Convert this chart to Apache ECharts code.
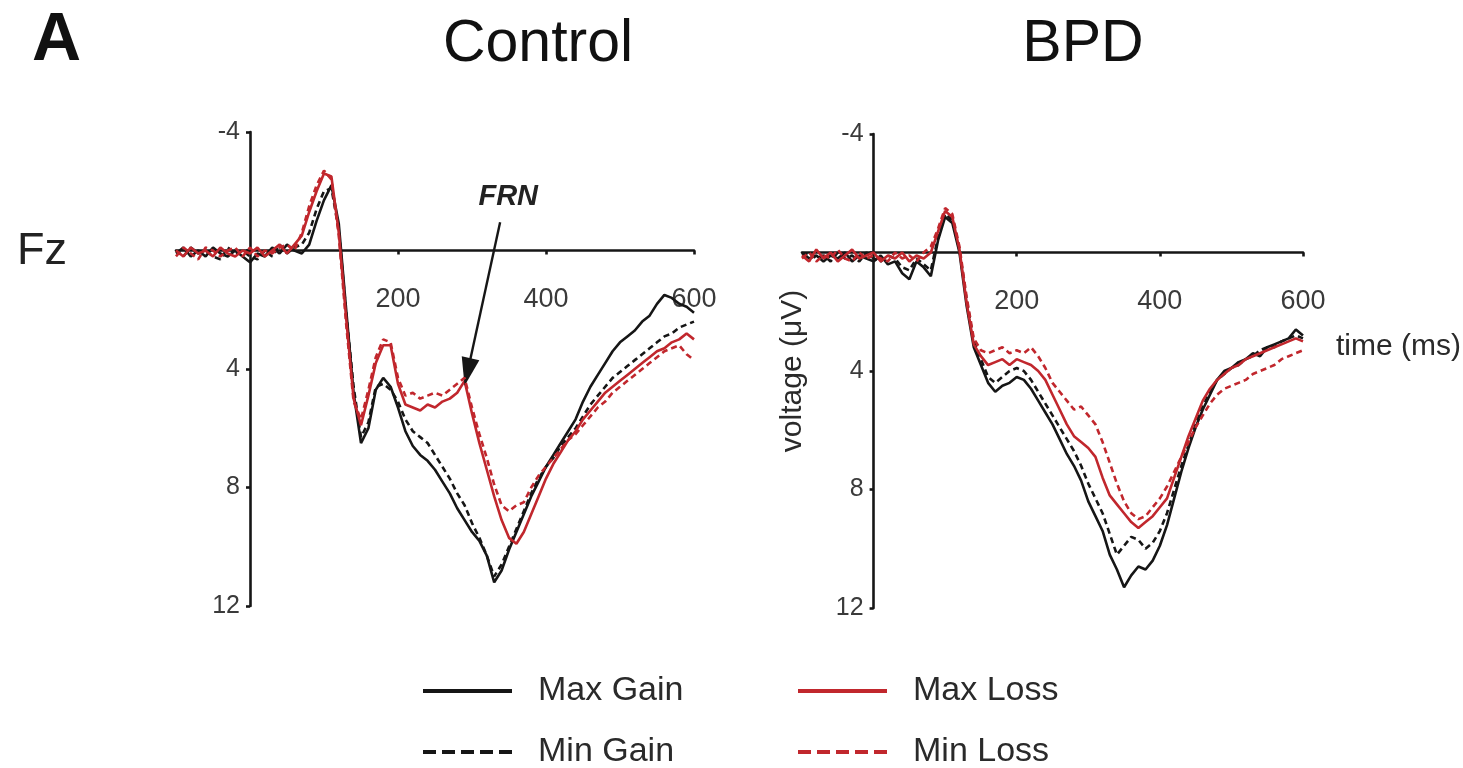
<!DOCTYPE html>
<html>
<head>
<meta charset="utf-8">
<title>FRN at Fz – Control vs BPD</title>
<script src="https://cdn.jsdelivr.net/npm/echarts@6/dist/echarts.min.js"></script>
<style>
  html, body { margin: 0; padding: 0; background: #fff; }
  #chart { width: 1463px; height: 768px; }
</style>
</head>
<body>
<div id="chart"></div>
<script>
// Time points (ms), shared by all waveforms
const times = [
  -100, -90, -80, -70, -60, -50, -40, -30, -20, -10,
  0, 10, 20, 30, 40, 50, 60, 70, 80, 90,
  100, 110, 120, 130, 140, 150, 160, 170, 180, 190,
  200, 210, 220, 230, 240, 250, 260, 270, 280, 290,
  300, 310, 320, 330, 340, 350, 360, 370, 380, 390,
  400, 410, 420, 430, 440, 450, 460, 470, 480, 490,
  500, 510, 520, 530, 540, 550, 560, 570, 580, 590, 600
];

// Control group, Fz voltage (µV)
const controlMaxGain = [
  0.1, -0.1, 0.2, 0.0, 0.2, -0.1, 0.1, 0.2, 0.0, 0.2,
  0.4, 0.1, 0.2, -0.1, 0.1, -0.2, 0.0, 0.1, -0.2, -1.0,
  -1.7, -2.2, -0.9, 2.0, 4.8, 6.5, 6.0, 4.7, 4.3, 4.6,
  5.3, 6.1, 6.6, 6.9, 7.1, 7.4, 7.8, 8.2, 8.7, 9.1,
  9.5, 9.8, 10.3, 11.2, 10.8, 10.1, 9.5, 8.9, 8.3, 7.8,
  7.3, 6.9, 6.5, 6.1, 5.7, 5.1, 4.6, 4.2, 3.8, 3.4,
  3.1, 2.9, 2.7, 2.4, 2.2, 1.8, 1.5, 1.6, 1.8, 1.9, 2.1
];
const controlMinGain = [
  0.0, 0.2, -0.1, 0.1, 0.0, 0.2, 0.3, -0.1, 0.1, 0.0,
  0.2, 0.3, 0.0, 0.2, -0.2, 0.1, -0.1, -0.2, -0.6, -1.4,
  -2.0, -2.1, -0.7, 2.1, 4.6, 6.3, 5.8, 4.6, 4.5, 4.7,
  5.1, 5.7, 6.1, 6.3, 6.5, 6.9, 7.3, 7.7, 8.2, 8.6,
  9.2, 9.7, 10.3, 11.0, 10.6, 10.0, 9.4, 8.8, 8.2, 7.7,
  7.3, 7.0, 6.6, 6.3, 6.0, 5.6, 5.2, 4.9, 4.6, 4.3,
  4.1, 3.9, 3.7, 3.5, 3.3, 3.1, 2.9, 2.8, 2.6, 2.5, 2.4
];
const controlMaxLoss = [
  0.0, 0.2, -0.1, 0.1, 0.0, 0.2, -0.1, 0.1, 0.2, 0.0,
  0.1, -0.1, 0.2, 0.0, -0.2, 0.1, -0.2, -0.5, -1.3, -2.0,
  -2.6, -2.5, -0.6, 2.3, 5.0, 5.9, 4.9, 3.8, 3.2, 3.2,
  4.5, 5.2, 5.3, 5.4, 5.2, 5.3, 5.1, 5.0, 4.8, 4.4,
  5.5, 6.5, 7.4, 8.3, 9.1, 9.7, 9.9, 9.5, 8.9, 8.3,
  7.7, 7.2, 6.8, 6.4, 6.1, 5.7, 5.4, 5.1, 4.8, 4.6,
  4.4, 4.2, 4.0, 3.8, 3.6, 3.4, 3.3, 3.1, 3.0, 2.8, 3.0
];
const controlMinLoss = [
  0.2, -0.1, 0.1, 0.3, -0.1, 0.0, 0.2, 0.0, -0.1, 0.2,
  -0.1, 0.2, 0.0, 0.1, -0.1, -0.2, 0.0, -0.6, -1.5, -2.2,
  -2.7, -2.4, -0.5, 2.5, 5.1, 5.7, 4.7, 3.6, 3.0, 3.1,
  4.3, 4.9, 4.8, 5.0, 4.9, 4.8, 4.9, 4.7, 4.5, 4.3,
  5.3, 6.2, 7.0, 7.9, 8.6, 8.8, 8.6, 8.5, 8.0, 7.6,
  7.3, 7.0, 6.7, 6.4, 6.2, 5.9, 5.6, 5.3, 5.1, 4.8,
  4.6, 4.4, 4.2, 4.0, 3.8, 3.6, 3.4, 3.3, 3.2, 3.5, 3.7
];

// BPD group, Fz voltage (µV)
const bpdMaxGain = [
  0.0, 0.2, 0.1, 0.3, 0.1, 0.2, 0.0, 0.3, 0.1, 0.2,
  0.3, 0.1, 0.4, 0.3, 0.7, 0.9, 0.3, 0.5, 0.8, -0.4,
  -1.2, -1.0, 0.0, 1.8, 3.2, 3.8, 4.4, 4.7, 4.5, 4.4,
  4.2, 4.3, 4.6, 5.0, 5.4, 5.8, 6.3, 6.8, 7.2, 7.7,
  8.4, 8.9, 9.4, 10.2, 10.7, 11.3, 10.9, 10.6, 10.7, 10.4,
  9.9, 9.2, 8.3, 7.4, 6.6, 5.9, 5.3, 4.8, 4.3, 4.0,
  3.9, 3.7, 3.6, 3.4, 3.5, 3.2, 3.1, 3.0, 2.9, 2.6, 2.8
];
const bpdMinGain = [
  0.1, 0.0, 0.2, 0.1, 0.3, 0.0, 0.2, 0.1, 0.3, 0.0,
  0.2, 0.3, 0.1, 0.2, 0.5, 0.6, 0.2, 0.4, 0.6, -0.5,
  -1.3, -1.1, -0.1, 1.6, 3.0, 3.6, 4.2, 4.4, 4.2, 4.0,
  3.9, 4.0, 4.3, 4.7, 5.1, 5.5, 5.9, 6.3, 6.7, 7.2,
  7.8, 8.3, 8.8, 9.5, 10.2, 9.9, 9.6, 9.7, 10.0, 9.8,
  9.4, 8.8, 8.0, 7.2, 6.5, 5.8, 5.2, 4.7, 4.3, 4.1,
  3.9, 3.8, 3.6, 3.5, 3.3, 3.2, 3.2, 3.0, 2.9, 2.8, 2.9
];
const bpdMaxLoss = [
  0.1, 0.3, -0.1, 0.2, 0.0, 0.3, 0.1, -0.1, 0.2, 0.1,
  0.0, 0.3, 0.1, 0.2, 0.0, 0.3, 0.1, 0.2, 0.0, -0.7,
  -1.4, -1.2, -0.1, 1.7, 3.1, 3.5, 3.8, 3.7, 3.6, 3.8,
  3.6, 3.7, 3.8, 4.0, 4.3, 4.8, 5.3, 5.8, 6.2, 6.4,
  6.6, 6.9, 7.6, 8.2, 8.5, 8.8, 9.1, 9.3, 9.1, 8.9,
  8.6, 8.3, 7.6, 6.9, 6.2, 5.6, 5.0, 4.6, 4.3, 4.1,
  3.9, 3.8, 3.6, 3.5, 3.4, 3.3, 3.2, 3.1, 3.0, 2.9, 3.0
];
const bpdMinLoss = [
  0.2, 0.0, 0.3, 0.1, 0.2, -0.1, 0.2, 0.3, 0.0, 0.2,
  0.1, 0.2, 0.3, 0.0, 0.2, 0.1, 0.3, 0.0, -0.2, -0.8,
  -1.5, -1.3, -0.2, 1.5, 2.9, 3.3, 3.4, 3.3, 3.2, 3.4,
  3.3, 3.4, 3.2, 3.5, 3.9, 4.4, 4.7, 5.0, 5.3, 5.2,
  5.5, 5.8, 6.4, 7.1, 7.8, 8.4, 8.8, 9.0, 8.9, 8.6,
  8.3, 7.9, 7.4, 6.9, 6.4, 5.9, 5.5, 5.1, 4.8, 4.6,
  4.5, 4.4, 4.3, 4.1, 4.0, 3.9, 3.8, 3.6, 3.5, 3.4, 3.3
];

// Axis ranges, ticks and labels
const xRange = [-100, 600];
const yRange = [-4, 12];
const xTickValues = [200, 400, 600];
const yTickValues = [-4, 0, 4, 8, 12];
const yLabelValues = [-4, 4, 8, 12];

// FRN annotation: label position and arrow (ms, µV)
const frnLabel = [349, -1.8];
const frnArrowFrom = [338, -0.95];
const frnArrowTo = [294, 4.1];

const FONT = '"Liberation Sans", Arial, Helvetica, sans-serif';
const BLACK = '#161616';
const RED = '#c1272d';
const SOLID_W = 2.6;
const DASH = [6, 4];

// Plot areas (pixels)
const grids = [
  { left: 176, top: 132, width: 518, height: 474 },
  { left: 802, top: 134, width: 501, height: 474 }
];

const conditions = [
  { name: 'Max Gain', color: BLACK, dashed: false },
  { name: 'Min Gain', color: BLACK, dashed: true },
  { name: 'Max Loss', color: RED, dashed: false },
  { name: 'Min Loss', color: RED, dashed: true }
];
const panelData = [
  [controlMaxGain, controlMinGain, controlMaxLoss, controlMinLoss],
  [bpdMaxGain, bpdMinGain, bpdMaxLoss, bpdMinLoss]
];

function pairs(values) {
  return times.map((t, i) => [t, values[i]]);
}

// Axes cross at (0 ms, 0 µV): shift each axis from the grid edge to the zero line
function xAxisFor(gridIndex) {
  const g = grids[gridIndex];
  const zeroFromBottom = g.height * (yRange[1] - 0) / (yRange[1] - yRange[0]);
  return {
    type: 'value', gridIndex, min: xRange[0], max: xRange[1],
    offset: -zeroFromBottom,
    splitLine: { show: false },
    axisLine: { onZero: false, lineStyle: { color: BLACK, width: 2.6 } },
    axisTick: { show: true, customValues: xTickValues, length: 4, lineStyle: { color: BLACK, width: 2.6 } },
    axisLabel: { customValues: xTickValues, margin: 36, fontSize: 27, color: '#3a3a3a', fontFamily: FONT }
  };
}
function yAxisFor(gridIndex, extra) {
  const g = grids[gridIndex];
  const zeroFromLeft = g.width * (0 - xRange[0]) / (xRange[1] - xRange[0]);
  return Object.assign({
    type: 'value', gridIndex, min: yRange[0], max: yRange[1], inverse: true,
    offset: -zeroFromLeft,
    splitLine: { show: false },
    axisLine: { onZero: false, lineStyle: { color: BLACK, width: 2.6 } },
    axisTick: { show: true, customValues: yTickValues, length: 4, lineStyle: { color: BLACK, width: 2.6 } },
    axisLabel: { customValues: yLabelValues, margin: 10, fontSize: 25, color: '#3a3a3a', fontFamily: FONT }
  }, extra || {});
}

const series = [];
panelData.forEach((arrays, p) => {
  arrays.forEach((values, k) => {
    const c = conditions[k];
    series.push({
      type: 'line', name: c.name, xAxisIndex: p, yAxisIndex: p,
      data: pairs(values), symbol: 'none', silent: true,
      lineStyle: { color: c.color, width: SOLID_W, type: c.dashed ? DASH : 'solid' },
      itemStyle: { color: c.color },
      z: 2 + k
    });
  });
});

// Arrow and "FRN" label on the Control panel
series[2].markLine = {
  silent: true, animation: false,
  label: { show: false },
  lineStyle: { type: 'solid', color: BLACK, width: 2.4 },
  data: [[
    { coord: frnArrowFrom, symbol: 'none' },
    { coord: frnArrowTo, symbol: 'triangle', symbolSize: [18, 28] }
  ]]
};
series[2].markPoint = {
  silent: true, animation: false,
  symbol: 'circle', symbolSize: 0,
  label: {
    show: true, position: 'inside', formatter: 'FRN',
    fontSize: 29, fontWeight: 'bold', fontStyle: 'italic', color: '#222', fontFamily: FONT
  },
  data: [{ coord: frnLabel }]
};

// Legend keys: a solid bar, or five dashes of the same total length
const SOLID_ICON = 'path://M0,0L89,0L89,4L0,4Z';
const DASHED_ICON = 'path://M0,0h13v4h-13zM19,0h13v4h-13zM38,0h13v4h-13zM57,0h13v4h-13zM76,0h13v4h-13z';
const legendSlots = [
  { name: 'Max Gain', left: 423, top: 673 },
  { name: 'Min Gain', left: 423, top: 734 },
  { name: 'Max Loss', left: 798, top: 673 },
  { name: 'Min Loss', left: 798, top: 734 }
];
const legends = legendSlots.map(s => {
  const c = conditions.find(x => x.name === s.name);
  return {
    left: s.left, top: s.top, itemWidth: 89, itemHeight: 4, symbolKeepAspect: false,
    selectedMode: false, padding: 0,
    textStyle: { fontSize: 34, color: '#2a2a2a', fontFamily: FONT, lineHeight: 36, padding: [0, 0, 0, 21] },
    data: [{ name: s.name, icon: c.dashed ? DASHED_ICON : SOLID_ICON, itemStyle: { color: c.color, borderWidth: 0 } }]
  };
});

const option = {
  animation: false,
  backgroundColor: '#ffffff',
  title: [
    { text: 'A', left: 27, top: 2, textStyle: { fontSize: 68, fontWeight: 'bold', color: '#111', fontFamily: FONT } },
    { text: 'Control', left: 533, top: 10, textAlign: 'center', textStyle: { fontSize: 59, fontWeight: 'normal', color: '#111', fontFamily: FONT } },
    { text: 'BPD', left: 1078, top: 10, textAlign: 'center', textStyle: { fontSize: 59, fontWeight: 'normal', color: '#111', fontFamily: FONT } },
    { text: 'Fz', left: 12, top: 224, textStyle: { fontSize: 45, fontWeight: 'normal', color: '#222', fontFamily: FONT } },
    { text: 'time (ms)', left: 1331, top: 327, textStyle: { fontSize: 30, fontWeight: 'normal', color: '#2a2a2a', fontFamily: FONT } }
  ],
  grid: grids,
  xAxis: [xAxisFor(0), xAxisFor(1)],
  yAxis: [
    yAxisFor(0),
    yAxisFor(1, {
      name: 'voltage (μV)', nameLocation: 'middle', nameRotate: 90, nameGap: 66,
      nameTextStyle: { fontSize: 30, color: '#2a2a2a', fontFamily: FONT }
    })
  ],
  legend: legends,
  series
};

const chart = echarts.init(document.getElementById('chart'), null, { renderer: 'canvas' });
chart.setOption(option);
</script>
</body>
</html>
